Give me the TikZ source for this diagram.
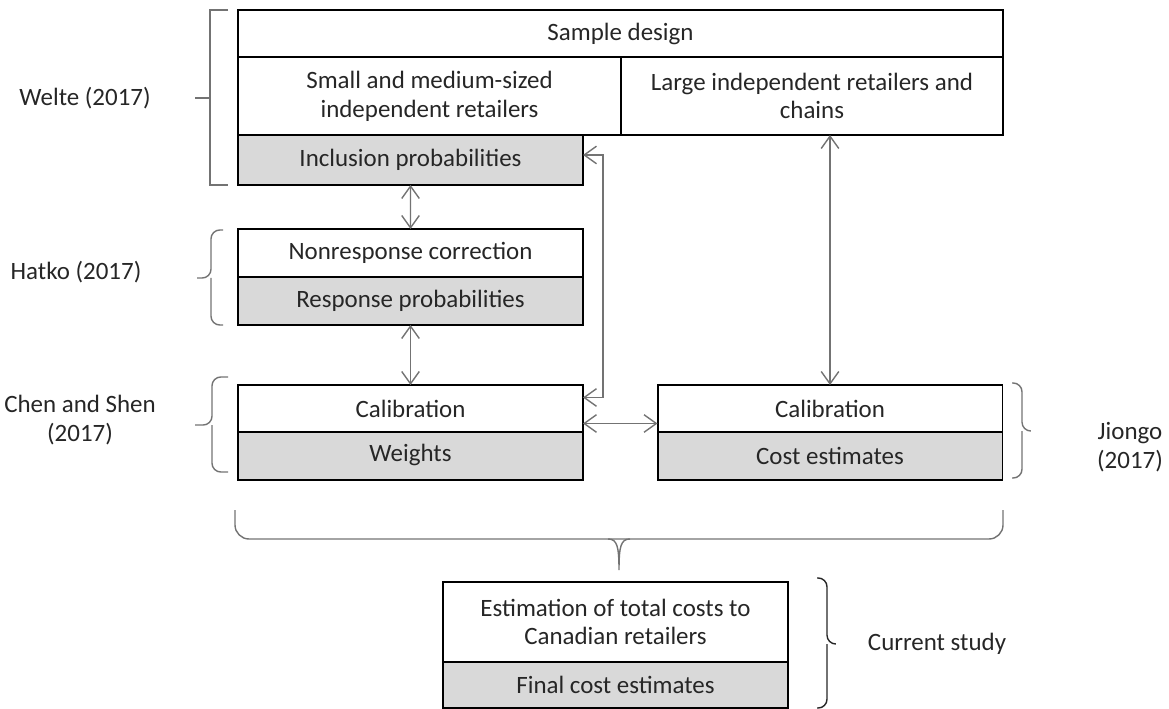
\documentclass[tikz,border=0pt]{standalone}
\usepackage{fontspec}
\setmainfont{Carlito}
\usetikzlibrary{arrows.meta, positioning, calc}

\begin{document}
\begin{tikzpicture}[
    x=0.02cm, y=-0.02cm,
    font=\fontsize{14.2}{16.4}\selectfont,
    cell/.style={rectangle, draw=black, line width=1.1pt, outer sep=0pt, inner sep=2pt, align=center, text=black!85, minimum width=6.9cm},
    greycell/.style={cell, fill=gray!30},
    lab/.style={align=center, text=black!85},
    bracket/.style={draw=black!55, line width=0.8pt},
    link/.style={{Straight Barb[length=7pt,width=10pt]}-{Straight Barb[length=7pt,width=10pt]}, draw=black!55, line width=0.8pt}
]
\useasboundingbox (0,0) rectangle (1169,709);

% Nodes
\node (design) [cell, minimum width=15.3cm, minimum height=0.94cm] at (620.5,33.5) {Sample design};
\node (small) [cell, minimum width=7.66cm, minimum height=1.56cm, below right=0pt and 0pt of design.south west] {Small and medium-sized\\independent retailers};
\node (large) [cell, minimum width=7.64cm, minimum height=1.56cm, right=0pt of small] {Large independent retailers and\\chains};
\node (incl) [greycell, minimum height=1cm, below right=0pt and 0pt of small.south west] {Inclusion probabilities};

\node (nonresp) [cell, minimum height=0.96cm] at (410.5,253) {Nonresponse correction};
\node (resp) [greycell, minimum height=0.96cm, below=0pt of nonresp] {Response probabilities};

\node (calL) [cell, minimum height=0.94cm] at (410.5,408.5) {Calibration};
\node (wts) [greycell, minimum height=0.96cm, below=0pt of calL] {\strut Weights};

\node (calR) [cell, minimum height=0.94cm] at (830,408.5) {Calibration};
\node (cost) [greycell, minimum height=0.96cm, below=0pt of calR] {Cost estimates};

\node (est) [cell, minimum height=1.6cm] at (615.5,622) {Estimation of total costs to\\Canadian retailers};
\node (final) [greycell, minimum height=0.92cm, below=0pt of est] {Final cost estimates};

% Labels
\node (welte) [lab] at (85,98) {Welte (2017)};
\node (hatko) [lab] at (76,272) {Hatko (2017)};
\node (chen) [lab] at (80,420) {Chen and Shen\\(2017)};
\node (jiongo) [lab] at (1130,447) {Jiongo\\(2017)};
\node (current) [lab] at (937,644) {Current study};

% Brackets
\draw [bracket] (228,10) -- (210,10) -- (210,185) -- (228,185);
\draw [bracket] (210,98) -- (195,98);
\draw [bracket, rounded corners=5] (223,230) -- (211,230) -- (211,278) -- (197,278);
\draw [bracket, rounded corners=5] (223,325) -- (211,325) -- (211,278);
\draw [bracket, rounded corners=5] (228,377) -- (212,377) -- (212,425) -- (195,425);
\draw [bracket, rounded corners=5] (228,472) -- (212,472) -- (212,425);
\draw [bracket, rounded corners=5] (1012,383) -- (1022,383) -- (1022,431) -- (1030,431);
\draw [bracket, rounded corners=5] (1012,478) -- (1022,478) -- (1022,431);
\draw [bracket, draw=black!85, rounded corners=5] (817,578) -- (827,578) -- (827,644) -- (835,644);
\draw [bracket, draw=black!85, rounded corners=5] (817,708) -- (827,708) -- (827,644);
\draw [bracket, rounded corners=8] (235,510) -- (235,539) -- (1003,539) -- (1003,510);
\draw [bracket] (608,539) .. controls (617,539) and (619,546) .. (619,570) .. controls (619,546) and (621,539) .. (630,539);

% Arrows
\draw [link] (incl) -- (nonresp);
\draw [link] (resp) -- (calL);
\draw [link] ($(incl.east)+(0,-5)$) -- ++(20,0) |- ($(calL.east)+(0,-11)$);
\draw [link] ($(calL.east)+(0,15)$) -- ($(calR.west)+(0,15)$);
\draw [link] (large.south -| calR.north) -- (calR.north);

\end{tikzpicture}
\end{document}
